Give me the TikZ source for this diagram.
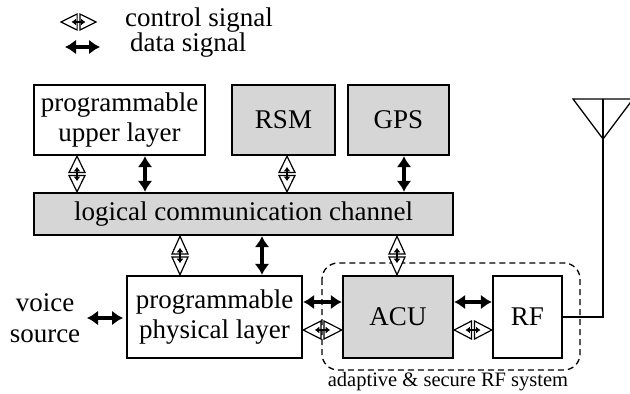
\documentclass[tikz,border=0pt]{standalone}
\usepackage{fontspec}
\setmainfont{Liberation Serif}
\usetikzlibrary{arrows.meta,calc}
\definecolor{boxgray}{RGB}{214,214,214}
\tikzset{
  blk/.style={draw, line width=2.4pt, fill=white, align=center, inner sep=0pt,
    font=\fontsize{27}{29.5}\selectfont},
  gblk/.style={blk, fill=boxgray},
  lbl/.style={inner sep=0pt, font=\fontsize{27}{30}\selectfont},
  datasig/.style={line width=3.4pt, {Latex[length=11pt,width=15pt]}-{Latex[length=11pt,width=15pt]}},
  ctrlout/.style={draw, line width=1.2pt, fill=white, line join=miter},
  ctrlin/.style={line width=1.8pt, {Latex[length=4.5pt,width=7pt]}-{Latex[length=4.5pt,width=7pt]}},
  thinln/.style={line width=1.3pt},
}
\newcommand\ctrlsig[3][8pt]{%
  \path #2 coordinate (cA) #3 coordinate (cB);
  \filldraw[ctrlout] (cA) -- ($(cA)!0.46!(cB)!#1!90:(cB)$) -- ($(cA)!0.46!(cB)!#1!-90:(cB)$) -- cycle;
  \filldraw[ctrlout] (cB) -- ($(cA)!0.54!(cB)!#1!90:(cB)$) -- ($(cA)!0.54!(cB)!#1!-90:(cB)$) -- cycle;
  \draw[ctrlin] ($(cA)!0.3!(cB)$) -- ($(cA)!0.7!(cB)$);
}
\begin{document}
\begin{tikzpicture}[x=1pt,y=-1pt]
\useasboundingbox (0,0) rectangle (630,394);
% legend
\coordinate (lc1) at (61,22); \coordinate (lc2) at (96,22);
\coordinate (ld1) at (65,47); \coordinate (ld2) at (100,47);
\ctrlsig{(lc1)}{(lc2)}
\draw[datasig] (ld1) -- (ld2);
\node[lbl, anchor=west] (lgc) at (125,20) {control signal};
\node[lbl, anchor=west] (lgd) at (130,45) {data signal};
% boxes
\node[blk, minimum width=171pt, minimum height=70pt] (up) at (119.5,120) {programmable\\upper layer};
\node[gblk, minimum width=103pt, minimum height=70pt] (rsm) at (283.5,120) {RSM};
\node[gblk, minimum width=101pt, minimum height=70pt] (gps) at (398.5,120) {GPS};
\node[gblk, minimum width=419pt, minimum height=42pt] (chan) at (243.5,214) {logical communication channel};
\node[blk, minimum width=175pt, minimum height=82pt] (phys) at (214.5,317) {programmable\\physical layer};
\node[gblk, minimum width=110pt, minimum height=82pt] (acu) at (398,317) {ACU};
\node[blk, minimum width=69pt, minimum height=82pt] (rf) at (527.5,317) {RF};
\node[lbl, align=center, font=\fontsize{27}{31}\selectfont] (voice) at (45,318) {voice\\source};
% dashed system boundary
\draw[thinln, dashed, dash pattern=on 6pt off 4pt, rounded corners=16pt] (322,263) rectangle (580,370);
\node[lbl, font=\fontsize{20.5}{24}\selectfont] (sys) at (448,382) {adaptive \& secure RF system};
% vertical connectors
\ctrlsig{(77,0 |- up.south)}{(77,0 |- chan.north)}
\draw[datasig] (145,0 |- up.south) -- (145,0 |- chan.north);
\ctrlsig{(287,0 |- rsm.south)}{(287,0 |- chan.north)}
\draw[datasig] (404,0 |- gps.south) -- (404,0 |- chan.north);
\ctrlsig{(180,0 |- chan.south)}{(180,0 |- phys.north)}
\draw[datasig] (262,0 |- chan.south) -- (262,0 |- phys.north);
\ctrlsig{(397,0 |- chan.south)}{(397,0 |- acu.north)}
% horizontal connectors
\draw[datasig] (phys.east |- 0,302) -- (acu.west |- 0,302);
\ctrlsig[9pt]{(phys.east |- 0,330)}{(acu.west |- 0,330)}
\draw[datasig] (acu.east |- 0,302) -- (rf.west |- 0,302);
\ctrlsig[9pt]{(acu.east |- 0,330)}{(rf.west |- 0,330)}
\draw[datasig] (87,0 |- voice.east) -- (123,0 |- voice.east);
% antenna
\coordinate (ant) at (603,99);
\draw[thinln] (rf.east) -| (ant);
\draw[thinln, line join=miter] (573,99) -- (633,99) -- (603,139) -- cycle;
\end{tikzpicture}
\end{document}
